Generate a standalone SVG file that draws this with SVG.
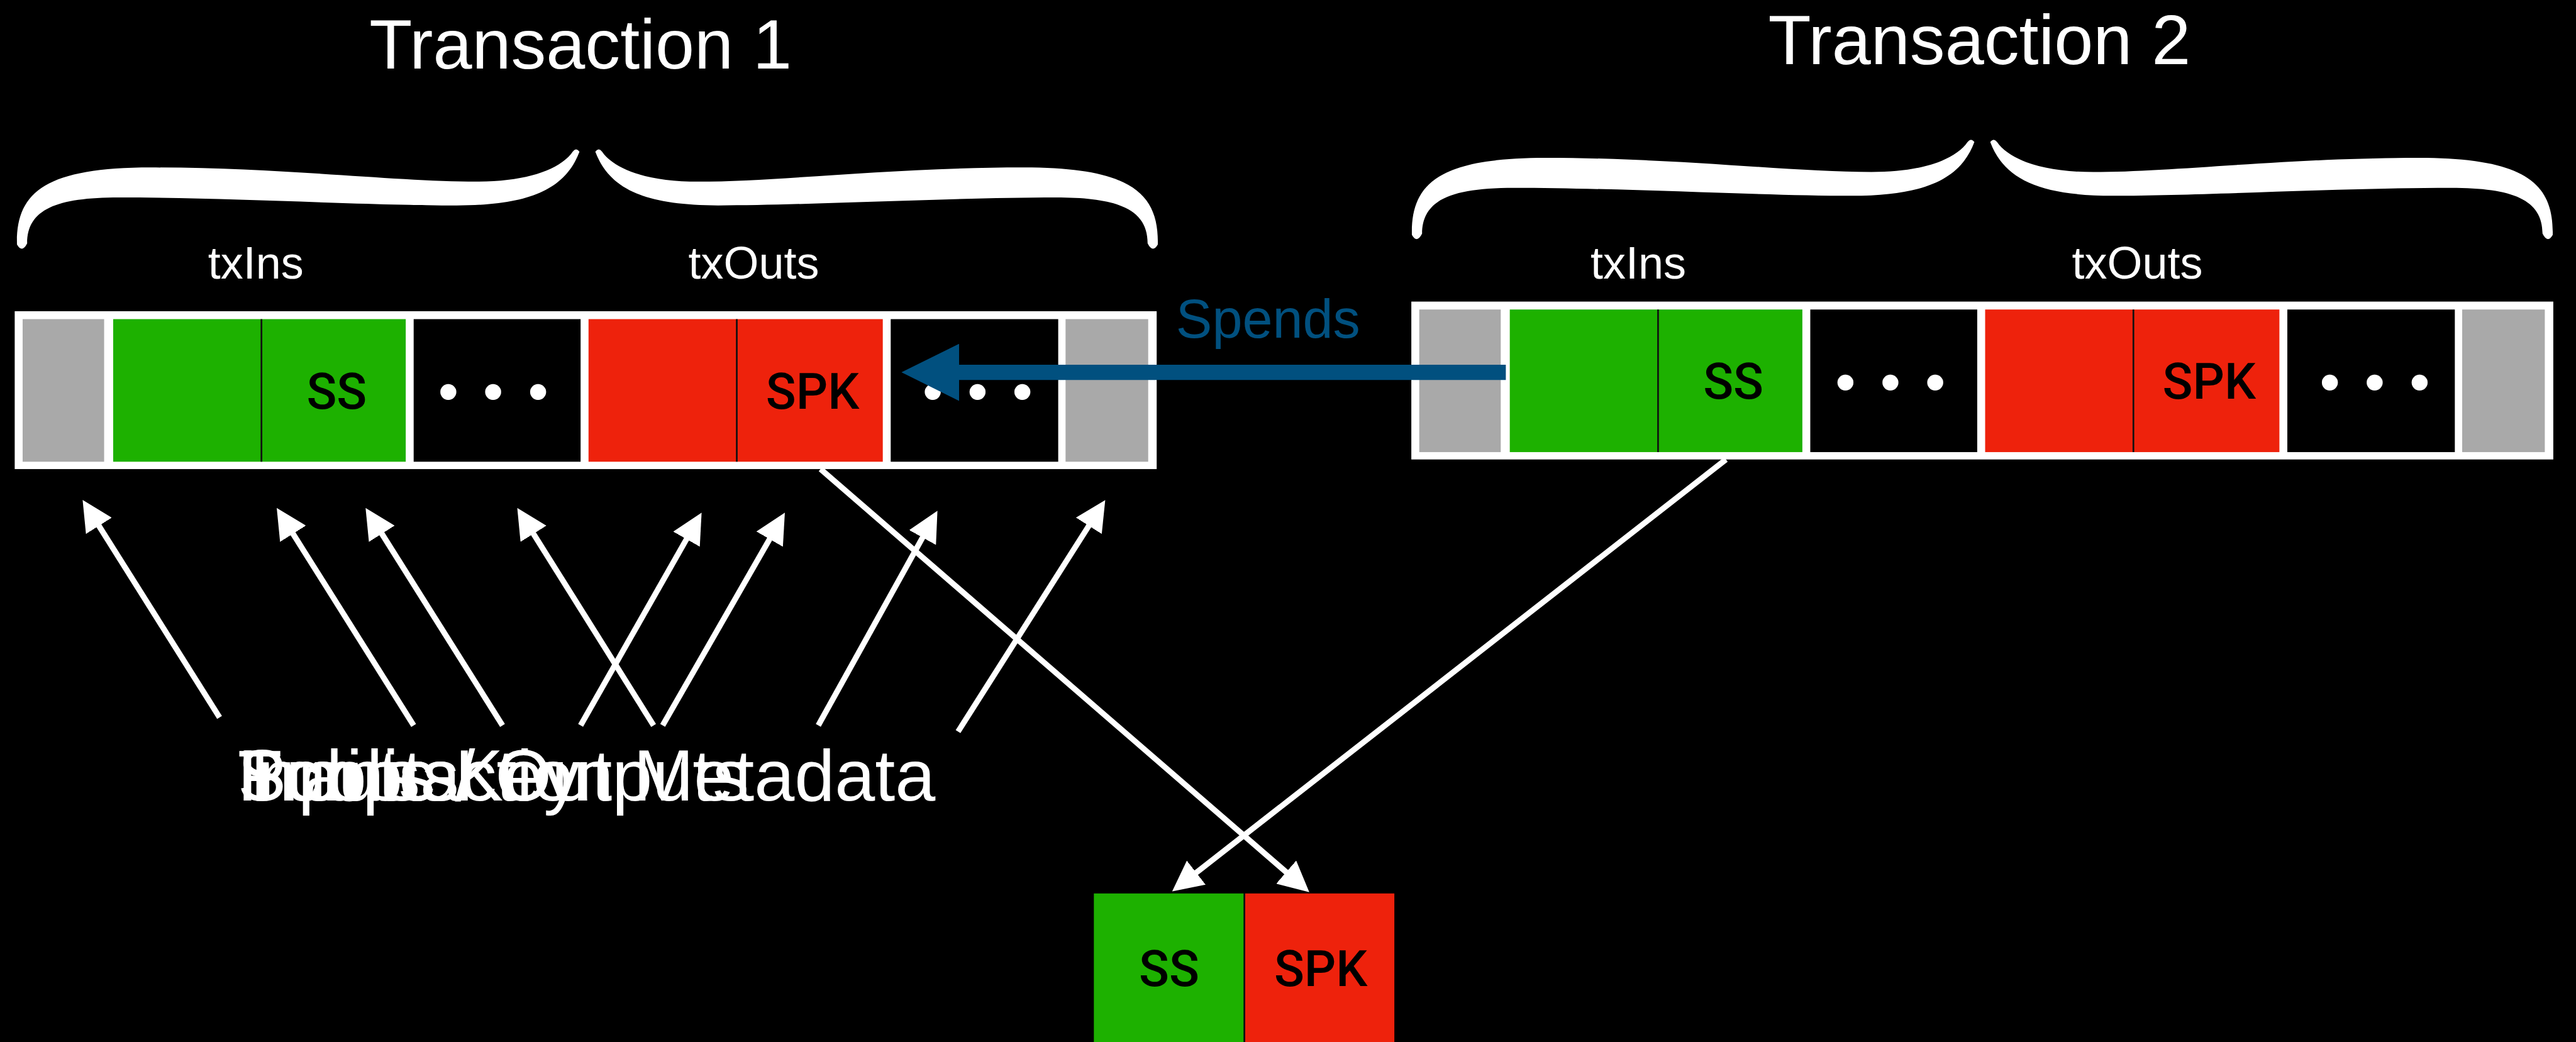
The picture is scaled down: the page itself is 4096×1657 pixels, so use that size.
<svg xmlns="http://www.w3.org/2000/svg" width="4096" height="1657" viewBox="0 0 4096 1657">
<style>
.t{font-family:"Liberation Sans",Arial,sans-serif;fill:#fff}
.k{font-family:Roboto,"Liberation Sans",Arial,sans-serif;font-weight:500;fill:#000;font-size:88px;text-anchor:middle}
.dots{font-family:"Liberation Sans",Arial,sans-serif;fill:#fff;font-size:104px;text-anchor:middle;letter-spacing:7px}
.frame{fill:#fff}
.gray{fill:#a9a9a9}
.green{fill:#1db100}
.red{fill:#ee220c}
.blk{fill:#000}
.div{stroke:#111;stroke-width:3}
.brace{fill:#fff}
.wl{stroke:#fff;stroke-width:10;fill:none;marker-end:url(#wh)}
.bl{stroke:#01507f;stroke-width:27;fill:none;marker-end:url(#bh)}
</style>
<defs>
<marker id="wh" markerUnits="userSpaceOnUse" viewBox="0 0 54 54" markerWidth="54" markerHeight="54" refX="24" refY="27" orient="auto"><path d="M0,0 L54,27 L0,54 Z" fill="#fff"/></marker>
<marker id="bh" markerUnits="userSpaceOnUse" viewBox="0 0 102 101" markerWidth="102" markerHeight="101" refX="62" refY="50.5" orient="auto"><path d="M0,0 L102,50.5 L0,101 Z" fill="#01507f"/></marker>
<path id="arm" d="M30,432 C28,340 80,296 267,296 C500,296 700,321 842,321 C930,321 990,300 1012,268 Q1018,260 1024,268 C1000,332 940,363 807,363 C650,363 400,349 210,349 C100,349 48,370 48,430 Q39,448 30,432 Z"/>
<g id="cells">
<rect class="frame" x="26" y="550" width="2018" height="279"/>
<rect class="gray" x="40" y="564" width="144" height="252"/>
<rect class="green" x="200" y="564" width="517" height="252"/>
<line class="div" x1="462" y1="564" x2="462" y2="816"/>
<rect class="blk" x="731" y="564" width="295" height="252"/>
<rect class="red" x="1040" y="564" width="520" height="252"/>
<line class="div" x1="1302" y1="564" x2="1302" y2="816"/>
<rect class="blk" x="1574" y="564" width="296" height="252"/>
<rect class="gray" x="1883" y="564" width="146" height="252"/>
<text class="k" x="595" y="722">SS</text>
<text class="k" x="1436" y="722">SPK</text>
</g>
</defs>
<rect width="4096" height="1657" fill="#000"/>
<g transform="scale(0.8998)">
<g id="tx1">
<text class="t" x="1026" y="121" font-size="124" text-anchor="middle">Transaction 1</text>
<use href="#arm" class="brace"/>
<use href="#arm" class="brace" transform="translate(2076,0) scale(-1,1)"/>
<text class="t" x="452" y="492" font-size="80" text-anchor="middle">txIns</text>
<text class="t" x="1332" y="492" font-size="80" text-anchor="middle">txOuts</text>
<use href="#cells"/>
<text class="dots" x="875" y="727">• • •</text>
<text class="dots" x="1731" y="727">• • •</text>
</g>
<g id="tx2">
<text class="t" x="3498" y="113" font-size="124" text-anchor="middle">Transaction 2</text>
<g transform="translate(2465,-17)">
<use href="#arm" class="brace"/>
<use href="#arm" class="brace" transform="translate(2076,0) scale(-1,1)"/>
</g>
<text class="t" x="2895" y="492" font-size="80" text-anchor="middle">txIns</text>
<text class="t" x="3777" y="492" font-size="80" text-anchor="middle">txOuts</text>
<g transform="translate(2468,-17)"><use href="#cells"/></g>
<text class="dots" x="3344" y="710">• • •</text>
<text class="dots" x="4200" y="710">• • •</text>
</g>
<g id="result">
<rect class="green" x="1933" y="1579" width="265" height="270"/>
<rect class="red" x="2200" y="1579" width="264" height="270"/>
<line class="div" x1="2199" y1="1579" x2="2199" y2="1849"/>
<text class="k" x="2066" y="1743">SS</text>
<text class="k" x="2334" y="1743">SPK</text>
</g>
<g id="labels">
<text class="t" x="420" y="1415" font-size="128">Transaction Metadata</text>
<text class="t" x="420" y="1415" font-size="128">Scripts</text>
<text class="t" x="420" y="1415" font-size="128">Public Key</text>
<text class="t" x="420" y="1415" font-size="128">Inputs / Outputs</text>
</g>
<g id="spends-label">
<text x="2078" y="597" font-size="96" font-family="Liberation Sans, Arial, sans-serif" fill="#01507f">Spends</text>
</g>
<g id="connectors">
<line class="bl" x1="2661" y1="658" x2="1633" y2="658"/>
<line class="wl" x1="388" y1="1268" x2="162" y2="909"/>
<line class="wl" x1="731" y1="1282" x2="505" y2="923"/>
<line class="wl" x1="888" y1="1282" x2="662" y2="923"/>
<line class="wl" x1="1155" y1="1282" x2="930" y2="923"/>
<line class="wl" x1="1026" y1="1282" x2="1225" y2="932"/>
<line class="wl" x1="1171" y1="1282" x2="1372" y2="932"/>
<line class="wl" x1="1446" y1="1282" x2="1642" y2="929"/>
<line class="wl" x1="1693" y1="1293" x2="1937" y2="909"/>
<line class="wl" x1="1450" y1="829" x2="2291" y2="1557"/>
<line class="wl" x1="3050" y1="812" x2="2095" y2="1557"/>
</g>
</g>
</svg>
